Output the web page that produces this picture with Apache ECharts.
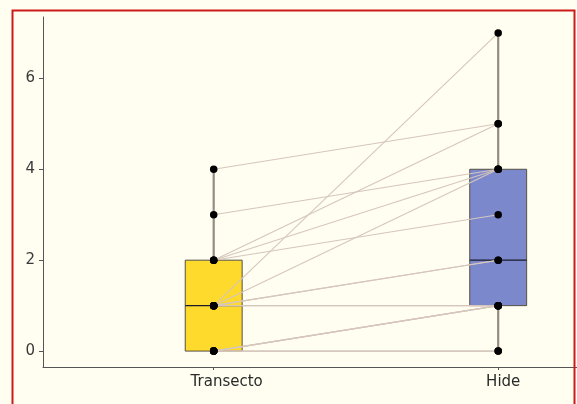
<!DOCTYPE html>
<html>
<head>
<meta charset="utf-8">
<script src="https://cdn.jsdelivr.net/npm/echarts@6/dist/echarts.min.js"></script>
<style>
html,body{margin:0;padding:0;background:#FFFEF0;}
#c{width:577px;height:404px;}
</style>
</head>
<body>
<div id="c"></div>
<script>
// Data: paired observations (Transecto -> Hide)
const categories = ['Transecto', 'Hide'];
const transecto = [4, 3, 2, 2, 2, 1, 1, 1, 1, 1, 1, 0, 0, 0, 0, 0];
const hide      = [5, 4, 5, 4, 3, 7, 4, 2, 2, 1, 1, 1, 1, 1, 0, 0];
const yTicks = [0, 2, 4, 6];
const boxColors = ['#FDDA2C', '#7B88CC'];

function quantile(arr, p) {
  const s = [...arr].sort((a, b) => a - b);
  const h = (s.length - 1) * p;
  const lo = Math.floor(h);
  const hi = Math.min(lo + 1, s.length - 1);
  return s[lo] + (h - lo) * (s[hi] - s[lo]);
}
function boxStats(arr) {
  const q1 = quantile(arr, 0.25), med = quantile(arr, 0.5), q3 = quantile(arr, 0.75);
  const iqr = q3 - q1;
  const lo = Math.min(...arr.filter(v => v >= q1 - 1.5 * iqr));
  const hi = Math.max(...arr.filter(v => v <= q3 + 1.5 * iqr));
  return [lo, q1, med, q3, hi];
}
const boxData = [transecto, hide].map((arr, i) => [i].concat(boxStats(arr)));

const chart = echarts.init(document.getElementById('c'), null, {renderer: 'canvas'});

const series = [];
series.push({
  type: 'custom',
  z: 1,
  data: boxData,
  renderItem: function (params, api) {
    const x = api.value(0);
    const mn = api.value(1), q1 = api.value(2), md = api.value(3), q3 = api.value(4), mx = api.value(5);
    const w = api.size([0.2, 0])[0];
    const pMin = api.coord([x, mn]), pQ1 = api.coord([x, q1]), pMd = api.coord([x, md]);
    const pQ3 = api.coord([x, q3]), pMax = api.coord([x, mx]);
    const cx = pMd[0];
    const whiskerStyle = {stroke: '#958c82', lineWidth: 2.2};
    return {
      type: 'group',
      children: [
        {type: 'line', shape: {x1: cx, y1: pQ3[1], x2: cx, y2: pMax[1]}, style: whiskerStyle},
        {type: 'line', shape: {x1: cx, y1: pQ1[1], x2: cx, y2: pMin[1]}, style: whiskerStyle},
        {type: 'rect', shape: {x: cx - w / 2, y: pQ3[1], width: w, height: pQ1[1] - pQ3[1]},
          style: {fill: boxColors[x], stroke: '#555044', lineWidth: 1}},
        {type: 'line', shape: {x1: cx - w / 2, y1: pMd[1], x2: cx + w / 2, y2: pMd[1]},
          style: {stroke: '#1a1a2a', lineWidth: 1.3}}
      ]
    };
  }
});

for (let i = 0; i < transecto.length; i++) {
  series.push({
    type: 'line',
    z: 2,
    symbol: 'none',
    silent: true,
    animation: false,
    lineStyle: {color: '#D6C6BC', width: 1.1},
    data: [[0, transecto[i]], [1, hide[i]]]
  });
}

series.push({
  type: 'scatter',
  z: 3,
  symbolSize: 7.5,
  itemStyle: {color: '#000000', opacity: 1},
  data: transecto.map(v => [0, v]).concat(hide.map(v => [1, v]))
});

const fontFam = 'DejaVu Sans, Arial, sans-serif';

chart.setOption({
  backgroundColor: '#FFFEF0',
  animation: false,
  grid: {left: 43, right: 0, top: 17, bottom: 37, containLabel: false},
  xAxis: {
    type: 'value',
    min: -0.6,
    max: 1.277,
    splitLine: {show: false},
    axisLine: {show: true, onZero: false, lineStyle: {color: '#555555', width: 1}},
    axisTick: {show: true, length: 3, customValues: [0, 1], lineStyle: {color: '#555555'}},
    axisLabel: {
      customValues: [0, 1],
      margin: 8,
      fontSize: 15,
      color: '#2a2a2a',
      fontFamily: fontFam,
      formatter: v => (Math.round(v) === 0 ? '{a|' : '{b|') + categories[Math.round(v)] + '}',
      rich: {
        a: {fontSize: 15, fontFamily: fontFam, color: '#2a2a2a', padding: [0, 0, 0, 26]},
        b: {fontSize: 15, fontFamily: fontFam, color: '#2a2a2a', padding: [0, 0, 0, 10]}
      }
    }
  },
  yAxis: {
    type: 'value',
    min: -0.35,
    max: 7.35,
    splitLine: {show: false},
    axisLine: {show: true, onZero: false, lineStyle: {color: '#555555', width: 1}},
    axisTick: {show: true, length: 4, customValues: yTicks, lineStyle: {color: '#555555'}},
    axisLabel: {
      customValues: yTicks,
      margin: 8,
      fontSize: 15,
      color: '#3a3a3a',
      fontFamily: fontFam
    }
  },
  graphic: [{
    type: 'rect',
    z: 100,
    silent: true,
    shape: {x: 12.5, y: 10.5, width: 562, height: 430},
    style: {fill: 'none', stroke: '#CC1A1A', lineWidth: 2}
  }],
  series: series
});
</script>
</body>
</html>
